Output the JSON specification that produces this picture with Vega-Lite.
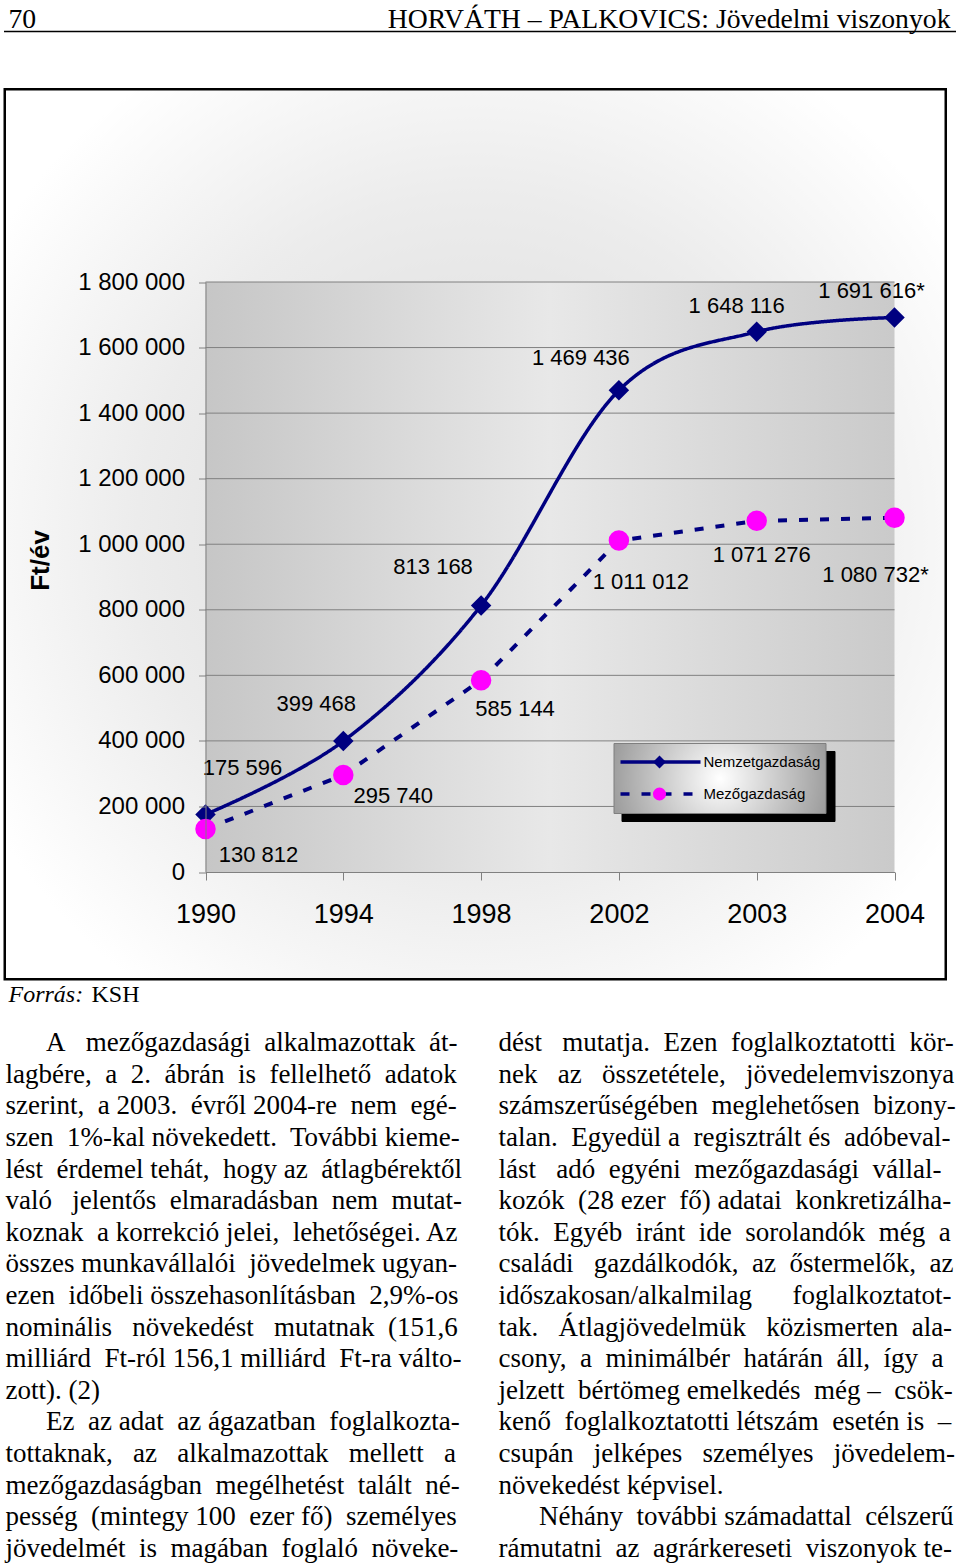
{
  "$schema": "https://vega.github.io/schema/vega-lite/v6.json",
  "background": "#ffffff",
  "padding": {"left": 3, "top": 0, "right": 0, "bottom": 0},
  "autosize": {"type": "pad"},
  "config": {
    "view": {"stroke": null},
    "locale": {"number": {"decimal": ",", "thousands": " ", "grouping": [3], "currency": ["", " Ft"]}},
    "axis": {"labelFont": "Liberation Sans", "titleFont": "Liberation Sans", "labelColor": "#000000", "titleColor": "#000000"}
  },
  "datasets": {
    "sorok": [
      {"ev": "1990", "sorozat": "Nemzetgazdaság", "ertek": 175596, "cimke": "175 596"},
      {"ev": "1994", "sorozat": "Nemzetgazdaság", "ertek": 399468, "cimke": "399 468"},
      {"ev": "1998", "sorozat": "Nemzetgazdaság", "ertek": 813168, "cimke": "813 168"},
      {"ev": "2002", "sorozat": "Nemzetgazdaság", "ertek": 1469436, "cimke": "1 469 436"},
      {"ev": "2003", "sorozat": "Nemzetgazdaság", "ertek": 1648116, "cimke": "1 648 116"},
      {"ev": "2004", "sorozat": "Nemzetgazdaság", "ertek": 1691616, "cimke": "1 691 616*"},
      {"ev": "1990", "sorozat": "Mezőgazdaság", "ertek": 130812, "cimke": "130 812"},
      {"ev": "1994", "sorozat": "Mezőgazdaság", "ertek": 295740, "cimke": "295 740"},
      {"ev": "1998", "sorozat": "Mezőgazdaság", "ertek": 585144, "cimke": "585 144"},
      {"ev": "2002", "sorozat": "Mezőgazdaság", "ertek": 1011012, "cimke": "1 011 012"},
      {"ev": "2003", "sorozat": "Mezőgazdaság", "ertek": 1071276, "cimke": "1 071 276"},
      {"ev": "2004", "sorozat": "Mezőgazdaság", "ertek": 1080732, "cimke": "1 080 732*"}
    ],
    "racs": [
      {"szint": 200000}, {"szint": 400000}, {"szint": 600000}, {"szint": 800000},
      {"szint": 1000000}, {"szint": 1200000}, {"szint": 1400000}, {"szint": 1600000}, {"szint": 1800000}
    ],
    "fejlec": [
      {"resz": "oldalszam", "szoveg": "70"},
      {"resz": "elofej", "szoveg": "HORVÁTH – PALKOVICS: Jövedelmi viszonyok"}
    ],
    "forras": [
      {"resz": "cim", "szoveg": "Forrás:"},
      {"resz": "forras", "szoveg": "KSH"}
    ],
    "szoveg": [
      {"has": "bal", "sor": 1, "szoveg": "\u200b\u2003\u2002A\u00a0\u00a0 mezőgazdasági\u00a0 alkalmazottak\u00a0 át-"},
      {"has": "bal", "sor": 2, "szoveg": "lagbére,\u00a0 a\u00a0 2.\u00a0 ábrán\u00a0 is\u00a0 fellelhető\u00a0 adatok"},
      {"has": "bal", "sor": 3, "szoveg": "szerint,\u00a0 a 2003.\u00a0 évről 2004-re\u00a0 nem\u00a0 egé-"},
      {"has": "bal", "sor": 4, "szoveg": "szen\u00a0 1%-kal növekedett.\u00a0 További kieme-"},
      {"has": "bal", "sor": 5, "szoveg": "lést\u00a0 érdemel tehát,\u00a0 hogy az\u00a0 átlagbérektől"},
      {"has": "bal", "sor": 6, "szoveg": "való\u00a0\u00a0 jelentős\u00a0 elmaradásban\u00a0 nem\u00a0 mutat-"},
      {"has": "bal", "sor": 7, "szoveg": "koznak\u00a0 a korrekció jelei,\u00a0 lehetőségei. Az"},
      {"has": "bal", "sor": 8, "szoveg": "összes munkavállalói\u00a0 jövedelmek ugyan-"},
      {"has": "bal", "sor": 9, "szoveg": "ezen\u00a0 időbeli összehasonlításban\u00a0 2,9%-os"},
      {"has": "bal", "sor": 10, "szoveg": "nominális\u00a0\u00a0 növekedést\u00a0\u00a0 mutatnak\u00a0 (151,6"},
      {"has": "bal", "sor": 11, "szoveg": "milliárd\u00a0 Ft-ról 156,1 milliárd\u00a0 Ft-ra válto-"},
      {"has": "bal", "sor": 12, "szoveg": "zott). (2)"},
      {"has": "bal", "sor": 13, "szoveg": "\u200b\u2003\u2002Ez\u00a0 az adat\u00a0 az ágazatban\u00a0 foglalkozta-"},
      {"has": "bal", "sor": 14, "szoveg": "tottaknak,\u00a0\u00a0 az\u00a0\u00a0 alkalmazottak\u00a0\u00a0 mellett\u00a0\u00a0 a"},
      {"has": "bal", "sor": 15, "szoveg": "mezőgazdaságban\u00a0 megélhetést\u00a0 talált\u00a0 né-"},
      {"has": "bal", "sor": 16, "szoveg": "pesség\u00a0 (mintegy 100\u00a0 ezer fő)\u00a0 személyes"},
      {"has": "bal", "sor": 17, "szoveg": "jövedelmét\u00a0 is\u00a0 magában\u00a0 foglaló\u00a0 növeke-"},
      {"has": "jobb", "sor": 1, "szoveg": "dést\u00a0\u00a0 mutatja.\u00a0 Ezen\u00a0 foglalkoztatotti\u00a0 kör-"},
      {"has": "jobb", "sor": 2, "szoveg": "nek\u00a0\u00a0 az\u00a0\u00a0 összetétele,\u00a0\u00a0 jövedelemviszonya"},
      {"has": "jobb", "sor": 3, "szoveg": "számszerűségében\u00a0 meglehetősen\u00a0 bizony-"},
      {"has": "jobb", "sor": 4, "szoveg": "talan.\u00a0 Egyedül a\u00a0 regisztrált és\u00a0 adóbeval-"},
      {"has": "jobb", "sor": 5, "szoveg": "lást\u00a0\u00a0 adó\u00a0 egyéni\u00a0 mezőgazdasági\u00a0 vállal-"},
      {"has": "jobb", "sor": 6, "szoveg": "kozók\u00a0 (28 ezer\u00a0 fő) adatai\u00a0 konkretizálha-"},
      {"has": "jobb", "sor": 7, "szoveg": "tók.\u00a0 Egyéb\u00a0 iránt\u00a0 ide\u00a0 sorolandók\u00a0 még\u00a0 a"},
      {"has": "jobb", "sor": 8, "szoveg": "családi\u00a0\u00a0 gazdálkodók,\u00a0 az\u00a0 őstermelők,\u00a0 az"},
      {"has": "jobb", "sor": 9, "szoveg": "időszakosan/alkalmilag\u00a0\u00a0\u00a0\u00a0\u00a0 foglalkoztatot-"},
      {"has": "jobb", "sor": 10, "szoveg": "tak.\u00a0\u00a0 Átlagjövedelmük\u00a0\u00a0 közismerten\u00a0 ala-"},
      {"has": "jobb", "sor": 11, "szoveg": "csony,\u00a0 a\u00a0 minimálbér\u00a0 határán\u00a0 áll,\u00a0 így\u00a0 a"},
      {"has": "jobb", "sor": 12, "szoveg": "jelzett\u00a0 bértömeg emelkedés\u00a0 még –\u00a0 csök-"},
      {"has": "jobb", "sor": 13, "szoveg": "kenő\u00a0 foglalkoztatotti létszám\u00a0 esetén is\u00a0 –"},
      {"has": "jobb", "sor": 14, "szoveg": "csupán\u00a0\u00a0 jelképes\u00a0\u00a0 személyes\u00a0\u00a0 jövedelem-"},
      {"has": "jobb", "sor": 15, "szoveg": "növekedést képvisel."},
      {"has": "jobb", "sor": 16, "szoveg": "\u200b\u2003\u2002Néhány\u00a0 további számadattal\u00a0 célszerű"},
      {"has": "jobb", "sor": 17, "szoveg": "rámutatni\u00a0 az\u00a0 agrárkereseti\u00a0 viszonyok te-"}
    ]
  },
  "bounds": "flush",
  "spacing": 59.5,
  "vconcat": [
    {
      "width": 952,
      "height": 31,
      "data": {"name": "fejlec"},
      "encoding": {
        "x": {"field": "resz", "type": "nominal", "scale": {"type": "point", "domain": ["oldalszam", "elofej"], "range": [-2.5, 949.5], "padding": 0}, "axis": {"domain": true, "domainColor": "#000000", "domainWidth": 1.5, "labels": false, "ticks": false, "grid": false, "title": null}},
        "text": {"field": "szoveg"}
      },
      "layer": [
        {"transform": [{"filter": "datum.resz === 'oldalszam'"}], "mark": {"type": "text", "align": "left", "baseline": "alphabetic", "dx": 5, "dy": 12.5, "font": "Liberation Serif", "fontSize": 27.7, "color": "#000000"}},
        {"transform": [{"filter": "datum.resz === 'elofej'"}], "mark": {"type": "text", "align": "right", "baseline": "alphabetic", "dx": -5, "dy": 12.5, "font": "Liberation Serif", "fontSize": 27.7, "color": "#000000"}}
      ]
    },
    {
      "bounds": "flush",
      "spacing": 0,
      "vconcat": [
        {
          "width": 938.5,
          "height": 887.5,
          "view": {"stroke": "#000000", "strokeWidth": 5},
          "data": {"name": "sorok"},
          "layer": [
            {
              "data": {"values": [{"elem": "keret"}]},
              "mark": {"type": "rect", "fill": {"gradient": "radial", "x1": 0.5, "y1": 0.5, "r1": 0, "x2": 0.5, "y2": 0.5, "r2": 0.6, "stops": [{"offset": 0, "color": "#d9d9d9"}, {"offset": 0.6, "color": "#ececec"}, {"offset": 1, "color": "#ffffff"}]}},
              "encoding": {}
            },
            {
              "data": {"values": [{"elem": "rajzterulet"}]},
              "mark": {"type": "rect", "fill": {"gradient": "linear", "x1": 0, "y1": 0, "x2": 1, "y2": 0, "stops": [{"offset": 0, "color": "#c6c6c6"}, {"offset": 0.5, "color": "#e8e8e8"}, {"offset": 1, "color": "#cacaca"}]}},
              "encoding": {
                "x": {"datum": "1990", "type": "nominal",
                  "scale": {"type": "point", "domain": ["1990", "1994", "1998", "2002", "2003", "2004"], "range": [199.5, 888.5], "padding": 0},
                  "axis": {"orient": "bottom", "offset": -106, "title": null, "labelAngle": 0, "domainColor": "#808080", "tickColor": "#808080", "tickSize": 8, "labelPadding": 21, "labelFontSize": 27, "labelFont": "Liberation Sans", "labelColor": "#000000", "grid": false, "zindex": 1}},
                "x2": {"datum": "2004"},
                "y": {"datum": 0, "type": "quantitative",
                  "scale": {"domain": [0, 1800000], "range": [781.5, 191.5], "nice": false, "zero": false},
                  "axis": {"orient": "left", "offset": -199.5, "values": [0, 200000, 400000, 600000, 800000, 1000000, 1200000, 1400000, 1600000, 1800000], "format": ",d", "grid": false, "domainColor": "#808080", "tickColor": "#808080", "tickSize": 7, "labelPadding": 14, "labelFontSize": 24, "labelFont": "Liberation Sans", "labelColor": "#000000", "title": "Ft/év", "titleFont": "Liberation Sans", "titleFontSize": 26, "titleFontWeight": "bold", "titleX": -165, "titleY": 469.5, "titleAngle": -90, "titleAlign": "center", "titleBaseline": "middle", "zindex": 1}},
                "y2": {"datum": 1800000}
              }
            },
            {
              "data": {"name": "racs"},
              "mark": {"type": "rule", "color": "#808080", "strokeWidth": 1},
              "encoding": {
                "x": {"datum": "1990", "type": "nominal"},
                "x2": {"datum": "2004"},
                "y": {"field": "szint", "type": "quantitative"}
              }
            },
            {
              "transform": [{"filter": "datum.sorozat === 'Nemzetgazdaság'"}],
              "mark": {"type": "line", "interpolate": "cardinal", "strokeWidth": 3.5},
              "encoding": {
                "x": {"field": "ev", "type": "nominal"},
                "y": {"field": "ertek", "type": "quantitative"},
                "color": {"field": "sorozat", "type": "nominal", "sort": "descending", "scale": {"range": ["#000080", "#000080"]},
                  "legend": {"orient": "none", "legendX": 607.5, "legendY": 743, "title": null, "symbolType": "stroke", "symbolSize": 6400, "symbolStrokeWidth": 3.5, "clipHeight": 28, "rowPadding": 4, "padding": 5, "labelFont": "Liberation Sans", "labelFontSize": 15, "labelColor": "#000000", "labelOffset": 1, "strokeColor": "#7f7f7f", "zindex": 2,
                    "encode": {"legend": {"update": {"fill": {"value": {"gradient": "radial", "x1": 0.5, "y1": 0.5, "r1": 0, "x2": 0.5, "y2": 0.5, "r2": 0.6, "stops": [{"offset": 0, "color": "#ffffff"}, {"offset": 1, "color": "#8c8c8c"}]}}}}}}},
                "strokeDash": {"field": "sorozat", "type": "nominal", "sort": "descending", "scale": {"range": [[1, 0], [9, 12]]},
                  "legend": {"orient": "none", "legendX": 607.5, "legendY": 743, "title": null, "symbolType": "stroke", "symbolSize": 6400, "symbolStrokeWidth": 3.5, "clipHeight": 28, "rowPadding": 4, "padding": 5, "labelFont": "Liberation Sans", "labelFontSize": 15, "labelColor": "#000000", "labelOffset": 1, "strokeColor": "#7f7f7f", "zindex": 2,
                    "encode": {"legend": {"update": {"fill": {"value": {"gradient": "radial", "x1": 0.5, "y1": 0.5, "r1": 0, "x2": 0.5, "y2": 0.5, "r2": 0.6, "stops": [{"offset": 0, "color": "#ffffff"}, {"offset": 1, "color": "#8c8c8c"}]}}}}}}},
                "opacity": {"field": "sorozat", "type": "nominal", "scale": {"domain": ["Mezőgazdaság", "Nemzetgazdaság"], "range": [1, 1]},
                  "legend": {"orient": "none", "legendX": 615.5, "legendY": 751, "title": null, "symbolType": "stroke", "symbolSize": 6400, "symbolStrokeWidth": 3.5, "clipHeight": 28, "rowPadding": 4, "padding": 5, "labelExpr": "''", "labelFontSize": 15, "labelOffset": 118.5, "fillColor": "#000000", "strokeColor": "#000000", "zindex": 1}}
              }
            },
            {
              "transform": [{"filter": "datum.sorozat === 'Mezőgazdaság'"}],
              "mark": {"type": "line", "interpolate": "linear", "strokeWidth": 4},
              "encoding": {
                "x": {"field": "ev", "type": "nominal"},
                "y": {"field": "ertek", "type": "quantitative"},
                "color": {"field": "sorozat", "type": "nominal", "sort": "descending", "scale": {"range": ["#000080", "#000080"]},
                  "legend": {"orient": "none", "legendX": 607.5, "legendY": 743, "title": null, "symbolType": "stroke", "symbolSize": 6400, "symbolStrokeWidth": 3.5, "clipHeight": 28, "rowPadding": 4, "padding": 5, "labelFont": "Liberation Sans", "labelFontSize": 15, "labelColor": "#000000", "labelOffset": 1, "strokeColor": "#7f7f7f", "zindex": 2,
                    "encode": {"legend": {"update": {"fill": {"value": {"gradient": "radial", "x1": 0.5, "y1": 0.5, "r1": 0, "x2": 0.5, "y2": 0.5, "r2": 0.6, "stops": [{"offset": 0, "color": "#ffffff"}, {"offset": 1, "color": "#8c8c8c"}]}}}}}}},
                "strokeDash": {"field": "sorozat", "type": "nominal", "sort": "descending", "scale": {"range": [[1, 0], [9, 12]]},
                  "legend": {"orient": "none", "legendX": 607.5, "legendY": 743, "title": null, "symbolType": "stroke", "symbolSize": 6400, "symbolStrokeWidth": 3.5, "clipHeight": 28, "rowPadding": 4, "padding": 5, "labelFont": "Liberation Sans", "labelFontSize": 15, "labelColor": "#000000", "labelOffset": 1, "strokeColor": "#7f7f7f", "zindex": 2,
                    "encode": {"legend": {"update": {"fill": {"value": {"gradient": "radial", "x1": 0.5, "y1": 0.5, "r1": 0, "x2": 0.5, "y2": 0.5, "r2": 0.6, "stops": [{"offset": 0, "color": "#ffffff"}, {"offset": 1, "color": "#8c8c8c"}]}}}}}}}
              }
            },
            {
              "mark": {"type": "point", "filled": true, "size": 420, "opacity": 1, "strokeWidth": 0},
              "encoding": {
                "x": {"field": "ev", "type": "nominal"},
                "y": {"field": "ertek", "type": "quantitative"},
                "shape": {"field": "sorozat", "type": "nominal", "scale": {"domain": ["Nemzetgazdaság", "Mezőgazdaság"], "range": ["diamond", "circle"]},
                  "legend": {"orient": "none", "legendX": 641, "legendY": 743, "title": null, "symbolSize": 170, "symbolStrokeWidth": 0, "clipHeight": 28, "rowPadding": 4, "padding": 5, "labelExpr": "''", "labelFontSize": 15, "zindex": 3}},
                "fill": {"field": "sorozat", "type": "nominal", "scale": {"domain": ["Nemzetgazdaság", "Mezőgazdaság"], "range": ["#000080", "#ff00ff"]},
                  "legend": {"orient": "none", "legendX": 641, "legendY": 743, "title": null, "symbolSize": 170, "symbolStrokeWidth": 0, "clipHeight": 28, "rowPadding": 4, "padding": 5, "labelExpr": "''", "labelFontSize": 15, "zindex": 3}}
              }
            },
            {"transform": [{"filter": "datum.sorozat === 'Nemzetgazdaság' && datum.ev === '1990'"}], "mark": {"type": "text", "align": "center", "baseline": "middle", "dx": 37, "dy": -46, "font": "Liberation Sans", "fontSize": 22, "color": "#000000"}, "encoding": {"x": {"field": "ev", "type": "nominal"}, "y": {"field": "ertek", "type": "quantitative"}, "text": {"field": "cimke"}}},
            {"transform": [{"filter": "datum.sorozat === 'Nemzetgazdaság' && datum.ev === '1994'"}], "mark": {"type": "text", "align": "center", "baseline": "middle", "dx": -27, "dy": -37, "font": "Liberation Sans", "fontSize": 22, "color": "#000000"}, "encoding": {"x": {"field": "ev", "type": "nominal"}, "y": {"field": "ertek", "type": "quantitative"}, "text": {"field": "cimke"}}},
            {"transform": [{"filter": "datum.sorozat === 'Nemzetgazdaság' && datum.ev === '1998'"}], "mark": {"type": "text", "align": "center", "baseline": "middle", "dx": -48, "dy": -38, "font": "Liberation Sans", "fontSize": 22, "color": "#000000"}, "encoding": {"x": {"field": "ev", "type": "nominal"}, "y": {"field": "ertek", "type": "quantitative"}, "text": {"field": "cimke"}}},
            {"transform": [{"filter": "datum.sorozat === 'Nemzetgazdaság' && datum.ev === '2002'"}], "mark": {"type": "text", "align": "center", "baseline": "middle", "dx": -38, "dy": -32, "font": "Liberation Sans", "fontSize": 22, "color": "#000000"}, "encoding": {"x": {"field": "ev", "type": "nominal"}, "y": {"field": "ertek", "type": "quantitative"}, "text": {"field": "cimke"}}},
            {"transform": [{"filter": "datum.sorozat === 'Nemzetgazdaság' && datum.ev === '2003'"}], "mark": {"type": "text", "align": "center", "baseline": "middle", "dx": -20, "dy": -26, "font": "Liberation Sans", "fontSize": 22, "color": "#000000"}, "encoding": {"x": {"field": "ev", "type": "nominal"}, "y": {"field": "ertek", "type": "quantitative"}, "text": {"field": "cimke"}}},
            {"transform": [{"filter": "datum.sorozat === 'Nemzetgazdaság' && datum.ev === '2004'"}], "mark": {"type": "text", "align": "center", "baseline": "middle", "dx": -23, "dy": -27, "font": "Liberation Sans", "fontSize": 22, "color": "#000000"}, "encoding": {"x": {"field": "ev", "type": "nominal"}, "y": {"field": "ertek", "type": "quantitative"}, "text": {"field": "cimke"}}},
            {"transform": [{"filter": "datum.sorozat === 'Mezőgazdaság' && datum.ev === '1990'"}], "mark": {"type": "text", "align": "center", "baseline": "middle", "dx": 53, "dy": 26, "font": "Liberation Sans", "fontSize": 22, "color": "#000000"}, "encoding": {"x": {"field": "ev", "type": "nominal"}, "y": {"field": "ertek", "type": "quantitative"}, "text": {"field": "cimke"}}},
            {"transform": [{"filter": "datum.sorozat === 'Mezőgazdaság' && datum.ev === '1994'"}], "mark": {"type": "text", "align": "center", "baseline": "middle", "dx": 50, "dy": 21, "font": "Liberation Sans", "fontSize": 22, "color": "#000000"}, "encoding": {"x": {"field": "ev", "type": "nominal"}, "y": {"field": "ertek", "type": "quantitative"}, "text": {"field": "cimke"}}},
            {"transform": [{"filter": "datum.sorozat === 'Mezőgazdaság' && datum.ev === '1998'"}], "mark": {"type": "text", "align": "center", "baseline": "middle", "dx": 34, "dy": 29, "font": "Liberation Sans", "fontSize": 22, "color": "#000000"}, "encoding": {"x": {"field": "ev", "type": "nominal"}, "y": {"field": "ertek", "type": "quantitative"}, "text": {"field": "cimke"}}},
            {"transform": [{"filter": "datum.sorozat === 'Mezőgazdaság' && datum.ev === '2002'"}], "mark": {"type": "text", "align": "center", "baseline": "middle", "dx": 22, "dy": 41, "font": "Liberation Sans", "fontSize": 22, "color": "#000000"}, "encoding": {"x": {"field": "ev", "type": "nominal"}, "y": {"field": "ertek", "type": "quantitative"}, "text": {"field": "cimke"}}},
            {"transform": [{"filter": "datum.sorozat === 'Mezőgazdaság' && datum.ev === '2003'"}], "mark": {"type": "text", "align": "center", "baseline": "middle", "dx": 5, "dy": 34, "font": "Liberation Sans", "fontSize": 22, "color": "#000000"}, "encoding": {"x": {"field": "ev", "type": "nominal"}, "y": {"field": "ertek", "type": "quantitative"}, "text": {"field": "cimke"}}},
            {"transform": [{"filter": "datum.sorozat === 'Mezőgazdaság' && datum.ev === '2004'"}], "mark": {"type": "text", "align": "center", "baseline": "middle", "dx": -19, "dy": 57, "font": "Liberation Sans", "fontSize": 22, "color": "#000000"}, "encoding": {"x": {"field": "ev", "type": "nominal"}, "y": {"field": "ertek", "type": "quantitative"}, "text": {"field": "cimke"}}}
          ]
        },
        {
          "width": 952,
          "height": 30,
          "data": {"name": "forras"},
          "encoding": {
            "x": {"field": "resz", "type": "nominal", "scale": {"type": "point", "domain": ["cim", "forras"], "range": [2.5, 85.5], "padding": 0}, "axis": null},
            "text": {"field": "szoveg"}
          },
          "layer": [
            {"transform": [{"filter": "datum.resz === 'cim'"}], "mark": {"type": "text", "align": "left", "baseline": "alphabetic", "dy": 8, "font": "Liberation Serif", "fontSize": 24, "fontStyle": "italic", "color": "#000000"}},
            {"transform": [{"filter": "datum.resz === 'forras'"}], "mark": {"type": "text", "align": "left", "baseline": "alphabetic", "dy": 8, "font": "Liberation Serif", "fontSize": 24, "color": "#000000"}}
          ]
        },
        {
          "width": 952,
          "height": 559,
          "data": {"name": "szoveg"},
          "mark": {"type": "text", "align": "left", "baseline": "alphabetic", "font": "Liberation Serif", "fontSize": 27, "color": "#000000"},
          "encoding": {
            "x": {"field": "has", "type": "nominal", "scale": {"type": "point", "domain": ["bal", "jobb"], "range": [-0.5, 492.5], "padding": 0}, "axis": null},
            "y": {"field": "sor", "type": "quantitative", "scale": {"domain": [1, 17], "range": [42.7, 548.3], "nice": false, "zero": false}, "axis": null},
            "text": {"field": "szoveg"}
          }
        }
      ]
    }
  ]
}
